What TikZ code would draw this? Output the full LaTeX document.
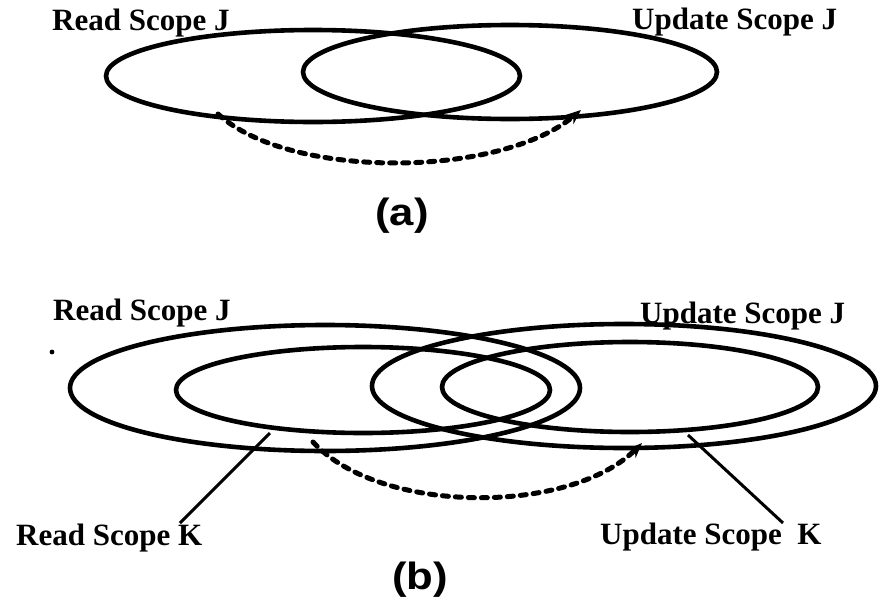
\documentclass[tikz,border=0pt]{standalone}
\usepackage{fontspec}
\setmainfont{Liberation Serif}
\newfontfamily\capfont{Liberation Sans}
\usetikzlibrary{shapes.geometric,arrows.meta}
\tikzset{
  ring/.style 2 args={draw, ellipse, line width=4.6pt, minimum width=#1, minimum height=#2, inner sep=0pt, outer sep=0pt},
  lbl/.style={inner sep=0pt, anchor=base west, font=\fontsize{31}{31}\selectfont\bfseries},
  figcap/.style={inner sep=0pt, font=\capfont\fontsize{38}{38}\selectfont\bfseries},
  flow/.style={line width=5pt, line cap=round, dash pattern=on 6pt off 7pt, -{Stealth[length=15pt,width=12pt]}},
  leader/.style={line width=3pt}
}
\begin{document}
\begin{tikzpicture}[x=1pt,y=-1pt]
\useasboundingbox (0,0) rectangle (879,600);
% (a)
\node[ring={414pt}{92pt}] (ra) at (313,76) {};
\node[ring={414pt}{94pt}] (ua) at (510,72) {};
\node[lbl] (lra) at (52,30) {Read Scope J};
\node[lbl] (lua) at (632,29) {Update Scope J};
\coordinate (sa) at (218,114);
\coordinate (ea) at (581,110);
\draw[flow] (sa) .. controls (290,180) and (500,178) .. (ea);
\node[figcap] (capa) at (402,216) {\scalebox{1.15}[1]{(a)}};
% (b)
\node[ring={510pt}{126pt}] (rjb) at (325,388) {};
\node[ring={374pt}{86pt}] (rkb) at (363,390) {};
\node[ring={504pt}{124pt}] (ujb) at (624,386) {};
\node[ring={376pt}{90pt}] (ukb) at (630,387) {};
\node[lbl] (lrjb) at (53,320) {Read Scope J};
\node[lbl] (lujb) at (640,323) {Update Scope J};
\node[lbl] (lrkb) at (16,545) {Read Scope K};
\node[lbl] (lukb) at (600,544) {Update Scope\ \ K};
\fill (52,352) circle (2.4pt);
\coordinate (sb) at (313,442);
\coordinate (eb) at (642,443);
\draw[flow] (sb) .. controls (380,515) and (570,515) .. (eb);
\coordinate (pk) at (270,433);
\coordinate (qk) at (180,523);
\draw[leader] (pk) -- (qk);
\coordinate (pu) at (688,435);
\coordinate (qu) at (783,523);
\draw[leader] (pu) -- (qu);
\node[figcap] (capb) at (420,580) {\scalebox{1.15}[1]{(b)}};
\end{tikzpicture}
\end{document}
